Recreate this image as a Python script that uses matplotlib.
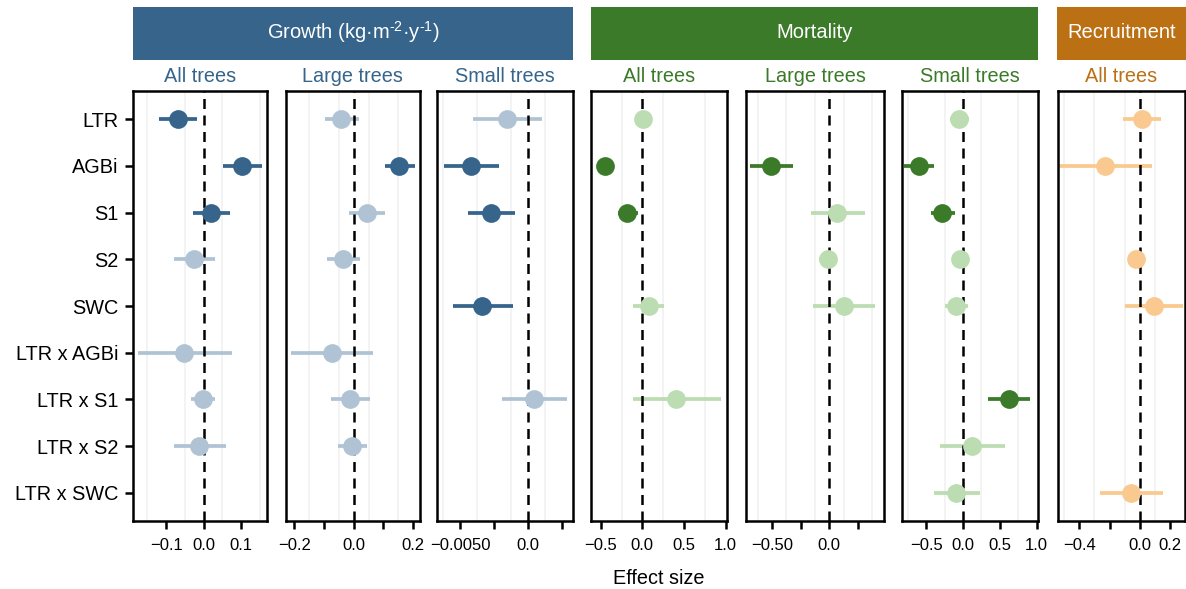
import numpy as np
import matplotlib
matplotlib.use("Agg")
import matplotlib.pyplot as plt
from matplotlib.patches import Rectangle

nan = np.nan
plt.rcParams['font.family'] = ['Liberation Sans', 'DejaVu Sans']
plt.rcParams['mathtext.fontset'] = 'custom'
plt.rcParams['mathtext.rm'] = 'Liberation Sans'

predictors = ["LTR", "AGBi", "S1", "S2", "SWC", "LTR x AGBi", "LTR x S1", "LTR x S2", "LTR x SWC"]

# Growth - all trees
g_all_est = [-0.069, 0.102, 0.020, -0.027, nan, -0.052, -0.001, -0.013, nan]
g_all_lo = [-0.119, 0.051, -0.029, -0.080, nan, -0.174, -0.033, -0.080, nan]
g_all_hi = [-0.019, 0.155, 0.070, 0.029, nan, 0.075, 0.031, 0.059, nan]
g_all_sig = [1, 1, 1, 0, 0, 0, 0, 0, 0]
# Growth - large trees
g_large_est = [-0.044, 0.154, 0.043, -0.037, nan, -0.074, -0.012, -0.005, nan]
g_large_lo = [-0.098, 0.104, -0.017, -0.089, nan, -0.210, -0.077, -0.052, nan]
g_large_hi = [0.017, 0.206, 0.104, 0.020, nan, 0.066, 0.055, 0.044, nan]
g_large_sig = [0, 1, 0, 0, 0, 0, 0, 0, 0]
# Growth - small trees
g_small_est = [-0.00157, -0.00419, -0.00274, nan, -0.00336, nan, 0.00042, nan, nan]
g_small_lo = [-0.00407, -0.00615, -0.00439, nan, -0.00554, nan, -0.00193, nan, nan]
g_small_hi = [0.00103, -0.00213, -0.00096, nan, -0.00113, nan, 0.00289, nan, nan]
g_small_sig = [0, 1, 1, 0, 1, 0, 0, 0, 0]
# Mortality - all trees
m_all_est = [0.005, -0.452, -0.180, nan, 0.076, nan, 0.409, nan, nan]
m_all_lo = [-0.020, -0.548, -0.296, nan, -0.108, nan, -0.117, nan, nan]
m_all_hi = [0.040, -0.349, -0.055, nan, 0.261, nan, 0.947, nan, nan]
m_all_sig = [0, 1, 1, 0, 0, 0, 0, 0, 0]
# Mortality - large trees
m_large_est = [nan, -0.509, 0.068, -0.015, 0.130, nan, nan, nan, nan]
m_large_lo = [nan, -0.691, -0.162, -0.090, -0.138, nan, nan, nan, nan]
m_large_hi = [nan, -0.317, 0.312, 0.070, 0.398, nan, nan, nan, nan]
m_large_sig = [0, 1, 0, 0, 0, 0, 0, 0, 0]
# Mortality - small trees
m_small_est = [-0.054, -0.595, -0.284, -0.040, -0.096, nan, 0.621, 0.128, -0.094]
m_small_lo = [-0.170, -0.800, -0.435, -0.150, -0.247, nan, 0.345, -0.306, -0.395]
m_small_hi = [0.080, -0.389, -0.114, 0.070, 0.068, nan, 0.912, 0.568, 0.234]
m_small_sig = [0, 1, 1, 0, 0, 0, 1, 0, 0]
# Recruitment - all trees
r_all_est = [0.012, -0.232, nan, -0.026, 0.091, nan, nan, nan, -0.061]
r_all_lo = [-0.112, -0.537, nan, -0.050, -0.101, nan, nan, nan, -0.261]
r_all_hi = [0.140, 0.078, nan, 0.000, 0.286, nan, nan, nan, 0.151]
r_all_sig = [0, 0, 0, 0, 0, 0, 0, 0, 0]

groups = [r"Growth (kg·m$\mathregular{^{\text{-}2}}$·y$\mathregular{^{\text{-}1}}$)", "Mortality", "Recruitment"]
subtitles = ["All trees", "Large trees", "Small trees", "All trees", "Large trees", "Small trees", "All trees"]

dark = {"g": "#36648b", "m": "#3b7a28", "r": "#bb7014"}
light = {"g": "#b0c3d4", "m": "#bcdcb1", "r": "#f9c98f"}

W, H = 1186, 589
fig = plt.figure(figsize=(W / 100, H / 100), dpi=100)

panels = [
    ("g", g_all_est, g_all_lo, g_all_hi, g_all_sig, (132.7, 266.7), (-0.189, 0.168),
     [-0.1, 0, 0.1], ["−0.1", "0.0", "0.1"], 0.1),
    ("g", g_large_est, g_large_lo, g_large_hi, g_large_sig, (285.7, 420), (-0.229, 0.223),
     [-0.2, -0.1, 0, 0.1, 0.2], ["−0.2", "", "0.0", "", "0.2"], 0.1),
    ("g", g_small_est, g_small_lo, g_small_hi, g_small_sig, (437.3, 572.7), (-0.00667, 0.00329),
     [-0.005, -0.0025, 0, 0.0025], ["−0.0050", "", "0.0", ""], 0.0025),
    ("m", m_all_est, m_all_lo, m_all_hi, m_all_sig, (591, 727.2), (-0.617, 1.02),
     [-0.5, 0, 0.5, 1.0], ["−0.5", "0.0", "0.5", "1.0"], 0.5),
    ("m", m_large_est, m_large_lo, m_large_hi, m_large_sig, (745.9, 884.3), (-0.729, 0.481),
     [-0.5, -0.25, 0, 0.25], ["−0.50", "", "0.0", ""], 0.25),
    ("m", m_small_est, m_small_lo, m_small_hi, m_small_sig, (901.8, 1037.8), (-0.831, 1.016),
     [-0.5, 0, 0.5, 1.0], ["−0.5", "0.0", "0.5", "1.0"], 0.5),
    ("r", r_all_est, r_all_lo, r_all_hi, r_all_sig, (1057.7, 1185), (-0.541, 0.296),
     [-0.4, -0.2, 0, 0.2], ["−0.4", "", "0.0", "0.2"], 0.2),
]

ytop, ybot = 91, 521
ypos = np.arange(len(predictors))

for i, (key, est, lo, hi, sig, (x0, x1), xl, ticks, labels, step) in enumerate(panels):
    ax = fig.add_axes([x0 / W, 1 - ybot / H, (x1 - x0) / W, (ybot - ytop) / H])
    ax.set_xlim(*xl)
    ax.set_ylim(len(predictors) - 0.4, -0.6)
    # faint minor grid (midway between major breaks)
    g = np.arange(np.floor(xl[0] / step) * step - step / 2, xl[1] + step, step)
    for gx in g:
        if xl[0] < gx < xl[1]:
            ax.axvline(gx, color="#f1f1f1", lw=1.2, zorder=0)
    est = np.array(est, float); lo = np.array(lo, float); hi = np.array(hi, float)
    for j in range(len(predictors)):
        if np.isnan(est[j]):
            continue
        c = dark[key] if sig[j] else light[key]
        ax.plot([lo[j], hi[j]], [ypos[j], ypos[j]], color=c, lw=2.7, solid_capstyle="butt", zorder=1)
        ax.plot(est[j], ypos[j], "o", ms=13.5, color=c, mec="none", zorder=3)
    ax.axvline(0, color="black", lw=1.8, linestyle=(0, (4, 2.6)), zorder=2)
    ax.set_xticks(ticks)
    ax.set_xticklabels(labels, fontsize=12)
    ax.tick_params(axis="x", length=6, width=1.8, pad=6, color="black")
    if i == 0:
        ax.set_yticks(ypos)
        ax.set_yticklabels(predictors, fontsize=14.3)
        ax.tick_params(axis="y", length=6, width=1.8, pad=4)
    else:
        ax.set_yticks([])
    for s in ax.spines.values():
        s.set_linewidth(1.8)
        s.set_color("black")
    fig.text((x0 + x1) / 2 / W, 1 - 77 / H, subtitles[i], color=dark[key], fontsize=14.3,
             ha="center", va="center")

strips = [("g", 133, 572.7, groups[0]), ("m", 591, 1038, groups[1]), ("r", 1057, 1186, groups[2])]
for key, a, b, label in strips:
    fig.patches.append(Rectangle((a / W, 1 - 60 / H), (b - a) / W, 53 / H, transform=fig.transFigure,
                                 facecolor=dark[key], edgecolor="none"))
    fig.text((a + b) / 2 / W, 1 - 32 / H, label, color="white", fontsize=14.5, ha="center", va="center")

fig.text(659 / W, 1 - 578 / H, "Effect size", fontsize=14.3, ha="center", va="center")

fig.savefig("out.png", dpi=100)
